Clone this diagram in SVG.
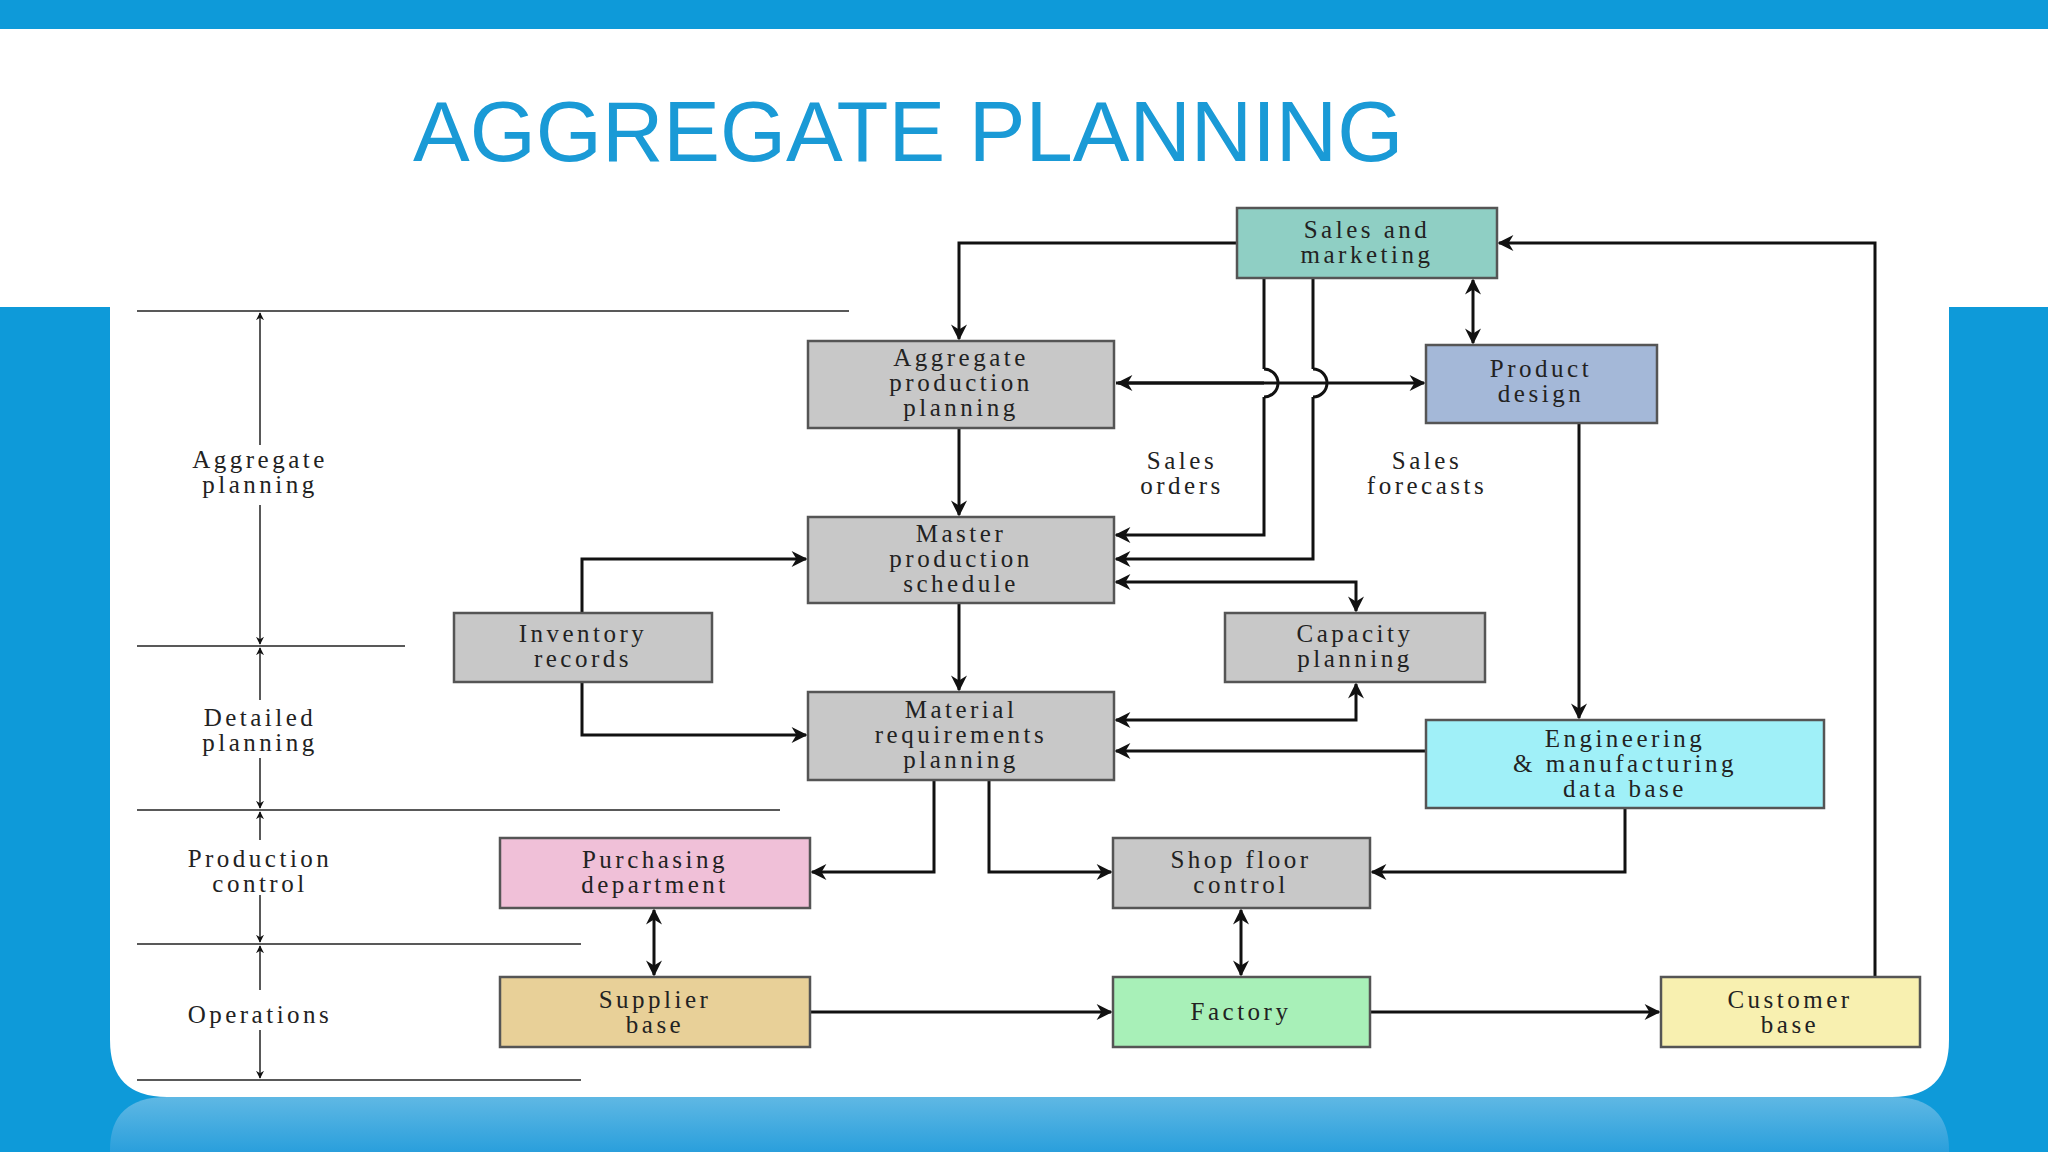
<svg xmlns="http://www.w3.org/2000/svg" width="2048" height="1152" viewBox="0 0 2048 1152">
<defs>
<marker id="ah" viewBox="0 0 10 10" refX="9" refY="5" markerWidth="8" markerHeight="8" orient="auto-start-reverse" markerUnits="userSpaceOnUse"><path d="M0,0 L10,5 L0,10 L3,5 z" fill="#111"/></marker>
<marker id="ahb" viewBox="0 0 10 10" refX="9" refY="5" markerWidth="22" markerHeight="16" orient="auto-start-reverse" markerUnits="userSpaceOnUse"><path d="M0,0 L10,5 L0,10 L3,5 z" fill="#111"/></marker>
<linearGradient id="refl" x1="0" y1="0" x2="0" y2="1"><stop offset="0" stop-color="#5fb8e4"/><stop offset="1" stop-color="#2a9fdc"/></linearGradient>
</defs>
<style>
.n{stroke:#555;stroke-width:2.5}
.t{font-family:"Liberation Serif",serif;font-size:25px;letter-spacing:3.5px;fill:#222;text-anchor:middle}
.c{fill:none;stroke:#111;stroke-width:3}
.s{fill:none;stroke:#222;stroke-width:1.5}
</style>
<rect width="2048" height="1152" fill="#0e9ad9"/>
<rect x="0" y="29" width="2048" height="278" fill="#fff"/>
<path d="M110,300 H1949 V1040 Q1949,1097 1892,1097 H167 Q110,1097 110,1040 Z" fill="#fff"/>
<path d="M110,1152 V1150 Q110,1097 167,1097 H1892 Q1949,1097 1949,1150 V1152 Z" fill="url(#refl)"/>
<text x="413" y="161" font-family="Liberation Sans,Arial,sans-serif" font-size="85" fill="#1a9ad6">AGGREGATE PLANNING</text>

<g id="scale">
<line class="s" x1="137" y1="311" x2="849" y2="311"/>
<line class="s" x1="137" y1="646" x2="405" y2="646"/>
<line class="s" x1="137" y1="810" x2="780" y2="810"/>
<line class="s" x1="137" y1="944" x2="581" y2="944"/>
<line class="s" x1="137" y1="1080" x2="581" y2="1080"/>
<line class="s" x1="260" y1="313" x2="260" y2="445" marker-start="url(#ah)"/>
<line class="s" x1="260" y1="505" x2="260" y2="644" marker-end="url(#ah)"/>
<line class="s" x1="260" y1="648" x2="260" y2="700" marker-start="url(#ah)"/>
<line class="s" x1="260" y1="758" x2="260" y2="808" marker-end="url(#ah)"/>
<line class="s" x1="260" y1="812" x2="260" y2="840" marker-start="url(#ah)"/>
<line class="s" x1="260" y1="895" x2="260" y2="942" marker-end="url(#ah)"/>
<line class="s" x1="260" y1="946" x2="260" y2="990" marker-start="url(#ah)"/>
<line class="s" x1="260" y1="1030" x2="260" y2="1078" marker-end="url(#ah)"/>
<text class="t" x="260" y="468">Aggregate</text><text class="t" x="260" y="493">planning</text>
<text class="t" x="260" y="726">Detailed</text><text class="t" x="260" y="751">planning</text>
<text class="t" x="260" y="867">Production</text><text class="t" x="260" y="892">control</text>
<text class="t" x="260" y="1023">Operations</text>
</g>

<g id="connectors">
<polyline class="c" points="1237,243 959,243 959,339" marker-end="url(#ahb)"/>
<polyline class="c" points="1875,977 1875,243 1499,243" marker-end="url(#ahb)"/>
<line class="c" x1="1473" y1="280" x2="1473" y2="343" marker-start="url(#ahb)" marker-end="url(#ahb)"/>
<path class="c" d="M1116,383 H1264 M1264,369 A14,14 0 0 1 1264,397 M1264,383 H1313 M1313,369 A14,14 0 0 1 1313,397 M1313,383 H1424" marker-end="url(#ahb)"/>
<line class="c" x1="1264" y1="383" x2="1118" y2="383" marker-end="url(#ahb)"/>
<polyline class="c" points="1264,278 1264,369"/>
<polyline class="c" points="1264,397 1264,535 1116,535" marker-end="url(#ahb)"/>
<polyline class="c" points="1313,278 1313,369"/>
<polyline class="c" points="1313,397 1313,559 1116,559" marker-end="url(#ahb)"/>
<line class="c" x1="959" y1="428" x2="959" y2="515" marker-end="url(#ahb)"/>
<polyline class="c" points="1116,582 1356,582 1356,611" marker-start="url(#ahb)" marker-end="url(#ahb)"/>
<polyline class="c" points="582,613 582,559 806,559" marker-end="url(#ahb)"/>
<polyline class="c" points="582,682 582,735 806,735" marker-end="url(#ahb)"/>
<line class="c" x1="959" y1="603" x2="959" y2="690" marker-end="url(#ahb)"/>
<polyline class="c" points="1116,720 1356,720 1356,684" marker-start="url(#ahb)" marker-end="url(#ahb)"/>
<line class="c" x1="1579" y1="423" x2="1579" y2="718" marker-end="url(#ahb)"/>
<line class="c" x1="1426" y1="751" x2="1116" y2="751" marker-end="url(#ahb)"/>
<polyline class="c" points="934,780 934,872 812,872" marker-end="url(#ahb)"/>
<polyline class="c" points="989,780 989,872 1111,872" marker-end="url(#ahb)"/>
<polyline class="c" points="1625,808 1625,872 1372,872" marker-end="url(#ahb)"/>
<line class="c" x1="654" y1="910" x2="654" y2="975" marker-start="url(#ahb)" marker-end="url(#ahb)"/>
<line class="c" x1="1241" y1="910" x2="1241" y2="975" marker-start="url(#ahb)" marker-end="url(#ahb)"/>
<line class="c" x1="810" y1="1012" x2="1111" y2="1012" marker-end="url(#ahb)"/>
<line class="c" x1="1370" y1="1012" x2="1659" y2="1012" marker-end="url(#ahb)"/>
<text class="t" x="1182" y="469">Sales</text><text class="t" x="1182" y="494">orders</text>
<text class="t" x="1427" y="469">Sales</text><text class="t" x="1427" y="494">forecasts</text>
</g>

<g id="sales"><rect class="n" x="1237" y="208" width="260" height="70" fill="#8fcfc4"/><text class="t" x="1367" y="238">Sales and</text><text class="t" x="1367" y="263">marketing</text></g>
<g id="agg"><rect class="n" x="808" y="341" width="306" height="87" fill="#c8c8c8"/><text class="t" x="961" y="366">Aggregate</text><text class="t" x="961" y="391">production</text><text class="t" x="961" y="416">planning</text></g>
<g id="product"><rect class="n" x="1426" y="345" width="231" height="78" fill="#a4b8d8"/><text class="t" x="1541" y="377">Product</text><text class="t" x="1541" y="402">design</text></g>
<g id="mps"><rect class="n" x="808" y="517" width="306" height="86" fill="#c8c8c8"/><text class="t" x="961" y="542">Master</text><text class="t" x="961" y="567">production</text><text class="t" x="961" y="592">schedule</text></g>
<g id="inv"><rect class="n" x="454" y="613" width="258" height="69" fill="#c8c8c8"/><text class="t" x="583" y="642">Inventory</text><text class="t" x="583" y="667">records</text></g>
<g id="cap"><rect class="n" x="1225" y="613" width="260" height="69" fill="#c8c8c8"/><text class="t" x="1355" y="642">Capacity</text><text class="t" x="1355" y="667">planning</text></g>
<g id="mrp"><rect class="n" x="808" y="692" width="306" height="88" fill="#c8c8c8"/><text class="t" x="961" y="718">Material</text><text class="t" x="961" y="743">requirements</text><text class="t" x="961" y="768">planning</text></g>
<g id="eng"><rect class="n" x="1426" y="720" width="398" height="88" fill="#a0f0f8"/><text class="t" x="1625" y="747">Engineering</text><text class="t" x="1625" y="772">&amp; manufacturing</text><text class="t" x="1625" y="797">data base</text></g>
<g id="purch"><rect class="n" x="500" y="838" width="310" height="70" fill="#f0c0d8"/><text class="t" x="655" y="868">Purchasing</text><text class="t" x="655" y="893">department</text></g>
<g id="shop"><rect class="n" x="1113" y="838" width="257" height="70" fill="#c8c8c8"/><text class="t" x="1241" y="868">Shop floor</text><text class="t" x="1241" y="893">control</text></g>
<g id="supplier"><rect class="n" x="500" y="977" width="310" height="70" fill="#e8d098"/><text class="t" x="655" y="1008">Supplier</text><text class="t" x="655" y="1033">base</text></g>
<g id="factory"><rect class="n" x="1113" y="977" width="257" height="70" fill="#a8f0b8"/><text class="t" x="1241" y="1020">Factory</text></g>
<g id="customer"><rect class="n" x="1661" y="977" width="259" height="70" fill="#f8f0b0"/><text class="t" x="1790" y="1008">Customer</text><text class="t" x="1790" y="1033">base</text></g>
</svg>
